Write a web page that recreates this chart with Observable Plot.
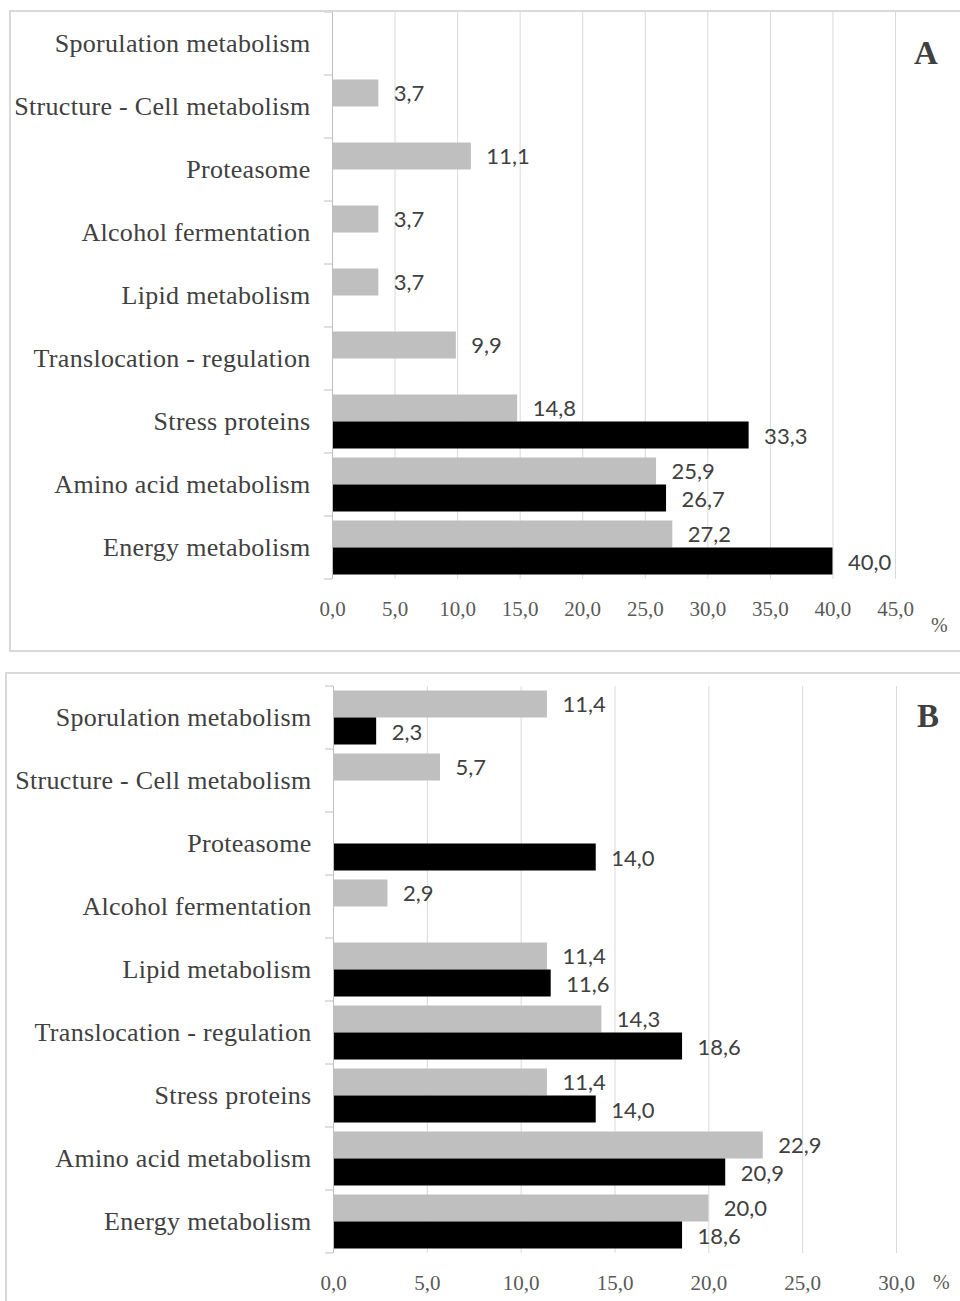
<!DOCTYPE html>
<html><head><meta charset="utf-8">
<script src="https://cdn.jsdelivr.net/npm/d3@7"></script>
<script src="https://cdn.jsdelivr.net/npm/@observablehq/plot@0.6"></script>
<style>
body{margin:0;background:#fff;width:960px;height:1301px;overflow:hidden;position:relative;}
.panel{position:absolute;border:2px solid #d9d9d9;background:#fff;box-sizing:border-box;overflow:hidden;}
#pa{left:9px;top:10px;width:970px;height:642px;}
#pb{left:5px;top:672px;width:970px;height:680px;}
.chart{position:absolute;left:0;top:0;}
.letter{position:absolute;font-family:"Liberation Serif",serif;font-weight:bold;font-size:33px;color:#404040;line-height:1;}
.pct{position:absolute;font-family:"Liberation Serif",serif;font-size:20px;color:#595959;line-height:1;}
svg g[aria-label="y-axis tick label"] text{letter-spacing:0.3px;}
</style></head><body>
<div class="panel" id="pa"><div class="chart" id="ca"></div><div class="letter" style="left:903px;top:25px;">A</div><div class="pct" style="left:920px;top:603px;">%</div></div>
<div class="panel" id="pb"><div class="chart" id="cb"></div><div class="letter" style="left:910px;top:26px;">B</div><div class="pct" style="left:926px;top:598px;">%</div></div>
<script>
const categories = ["Sporulation metabolism","Structure - Cell metabolism","Proteasome","Alcohol fermentation","Lipid metabolism","Translocation - regulation","Stress proteins","Amino acid metabolism","Energy metabolism"];
const greyA  = [null, 3.7, 11.1, 3.7, 3.7, 9.9, 14.8, 25.9, 27.2];
const blackA = [null, null, null, null, null, null, 33.3, 26.7, 40.0];
const greyB  = [11.4, 5.7, null, 2.9, 11.4, 14.3, 11.4, 22.9, 20.0];
const blackB = [2.3, null, 14.0, null, 11.6, 18.6, 14.0, 20.9, 18.6];
const ticksA = [0,5,10,15,20,25,30,35,40,45];
const ticksB = [0,5,10,15,20,25,30];

const fmt = v => v.toFixed(1).replace(".", ",");
const rows = (vals) => categories.map((c,i)=>({cat:c, v:vals[i]})).filter(d=>d.v!=null);

function make(el, grey, black, ticks, o) {
  const band = 63, half = band/2, pad = 4.5;
  const plot = Plot.plot({
    width: o.width, height: o.height,
    marginLeft: o.ml, marginRight: o.mr, marginTop: o.mt, marginBottom: o.mb,
    x: {domain: [0, ticks[ticks.length-1]], ticks: ticks, tickFormat: fmt},
    y: {domain: categories, padding: 0},
    style: {background: "transparent", overflow: "visible"},
    marks: [
      Plot.gridX(ticks, {stroke: "#d9d9d9", strokeOpacity: 1, strokeWidth: 1}),
      Plot.barX(rows(grey), {x: "v", y: "cat", fill: "#bfbfbf", insetTop: pad, insetBottom: half}),
      Plot.barX(rows(black), {x: "v", y: "cat", fill: "#000000", insetTop: half, insetBottom: pad}),
      Plot.ruleX([0], {stroke: "#bfbfbf"}),
      Plot.text(rows(grey), {x: "v", y: "cat", text: d => fmt(d.v), dx: 15, dy: -(half-pad)/2, textAnchor: "start", fill: "#404040", fontFamily: "Lato, sans-serif", fontSize: 22}),
      Plot.text(rows(black), {x: "v", y: "cat", text: d => fmt(d.v), dx: 15, dy: (half-pad)/2 + 1, textAnchor: "start", fill: "#404040", fontFamily: "Lato, sans-serif", fontSize: 22}),
      Plot.axisY({tickSize: 0, tickPadding: 22, fill: "#404040", fontFamily: "Liberation Serif, serif", fontSize: 26, label: null}),
      Plot.axisX(ticks, {tickSize: 0, tickPadding: o.tp, fill: "#595959", fontFamily: "Liberation Serif, serif", fontSize: 21, label: null, tickFormat: fmt})
    ]
  });
  // boundary tick marks on the category axis, placed with the plot's own scales
  const ys = plot.scale("y"), xs = plot.scale("x");
  const x0 = xs.apply(0);
  const svg = d3.select(plot.tagName === "svg" ? plot : plot.querySelector("svg"));
  const bounds = categories.map(c => ys.apply(c)).concat([ys.apply(categories[categories.length-1]) + ys.bandwidth]);
  svg.append("g").selectAll("line").data(bounds).join("line")
    .attr("x1", x0 - 8).attr("x2", x0).attr("y1", d => d).attr("y2", d => d)
    .attr("stroke", "#bfbfbf");
  document.getElementById(el).append(plot);
}

make("ca", greyA, blackA, ticksA, {width: 950, height: 638, ml: 321, mr: 66, mt: 0, mb: 71, tp: 22});
make("cb", greyB, blackB, ticksB, {width: 950, height: 660, ml: 326, mr: 61, mt: 12, mb: 81, tp: 22});
</script>
</body></html>
